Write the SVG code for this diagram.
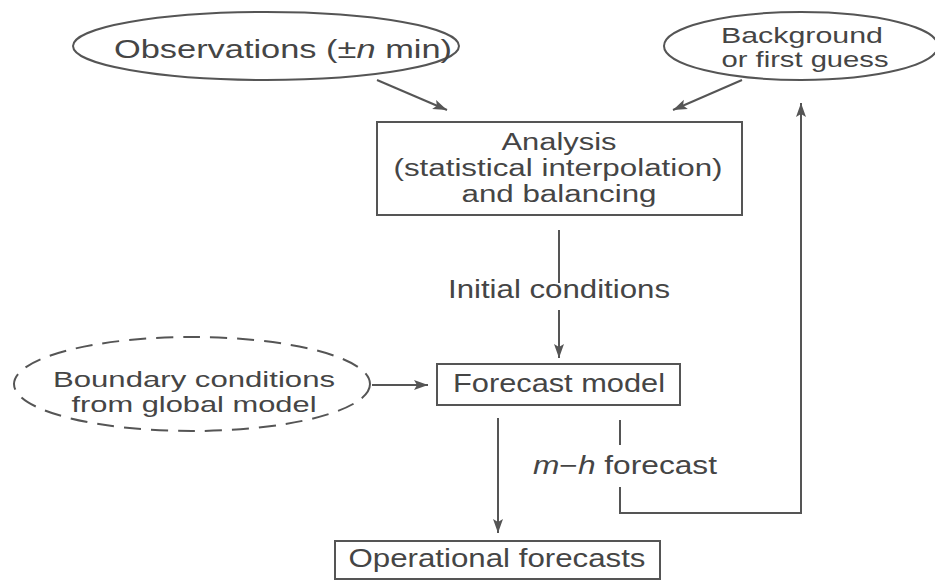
<svg xmlns="http://www.w3.org/2000/svg" width="935" height="582" viewBox="0 0 935 582">
<defs>
<style>
text{font-family:"Liberation Sans",Arial,sans-serif;font-size:25px;fill:#454545;text-anchor:middle;}
.node{fill:#fff;stroke:#555;stroke-width:2;}
.dash{fill:#fff;stroke:#555;stroke-width:2;stroke-dasharray:17 10;}
.conn{fill:none;stroke:#555;stroke-width:2;}
.it{font-style:italic;}
.bg{font-size:21.4px;}
.an{font-size:23px;}
.bd{font-size:22.3px;}
</style>
<marker id="ah" markerUnits="userSpaceOnUse" markerWidth="15" markerHeight="12" refX="14" refY="6" orient="auto">
<path d="M0,1 L14,6 L0,11 L3,6 z" fill="#555"/>
</marker>
</defs>
<rect width="935" height="582" fill="#fff"/>

<g id="observations">
<ellipse class="node" cx="266" cy="46" rx="193" ry="34"/>
<text x="283" y="58" textLength="338" lengthAdjust="spacingAndGlyphs" style="font-size:26px">Observations (±<tspan class="it">n</tspan> min)</text>
</g>

<g id="background">
<ellipse class="node" cx="801" cy="46" rx="137" ry="34"/>
<text class="bg" x="802" y="43" textLength="162" lengthAdjust="spacingAndGlyphs">Background</text>
<text class="bg" x="805" y="67" textLength="167" lengthAdjust="spacingAndGlyphs">or first guess</text>
</g>

<g id="analysis">
<rect class="node" x="377" y="122" width="365" height="93"/>
<text class="an" x="559" y="150" textLength="115" lengthAdjust="spacingAndGlyphs">Analysis</text>
<text class="an" x="558" y="176" textLength="329" lengthAdjust="spacingAndGlyphs">(statistical interpolation)</text>
<text class="an" x="559" y="202" textLength="195" lengthAdjust="spacingAndGlyphs">and balancing</text>
</g>

<g id="boundary">
<ellipse class="dash" cx="192" cy="384" rx="178" ry="47"/>
<text class="bd" x="194" y="387" textLength="282" lengthAdjust="spacingAndGlyphs">Boundary conditions</text>
<text class="bd" x="194" y="412" textLength="245" lengthAdjust="spacingAndGlyphs">from global model</text>
</g>

<g id="forecast-model">
<rect class="node" x="437" y="364" width="243" height="41"/>
<text x="559" y="392" textLength="212" lengthAdjust="spacingAndGlyphs">Forecast model</text>
</g>

<g id="operational">
<rect class="node" x="335" y="541" width="325" height="38"/>
<text x="497" y="567" textLength="297" lengthAdjust="spacingAndGlyphs">Operational forecasts</text>
</g>

<g id="connectors">
<line class="conn" x1="377" y1="80" x2="447" y2="110" marker-end="url(#ah)"/>
<line class="conn" x1="742" y1="80" x2="673" y2="110" marker-end="url(#ah)"/>
<line class="conn" x1="559" y1="230" x2="559" y2="283"/>
<line class="conn" x1="559" y1="310" x2="559" y2="358" marker-end="url(#ah)"/>
<text x="559" y="298" textLength="222" lengthAdjust="spacingAndGlyphs">Initial conditions</text>
<line class="conn" x1="372" y1="385" x2="428" y2="385" marker-end="url(#ah)"/>
<line class="conn" x1="498" y1="418" x2="498" y2="533" marker-end="url(#ah)"/>
<line class="conn" x1="620" y1="420" x2="620" y2="445"/>
<text x="533" y="474" textLength="184" lengthAdjust="spacingAndGlyphs" style="text-anchor:start"><tspan class="it">m</tspan>−<tspan class="it">h</tspan> forecast</text>
<path class="conn" d="M620,487 V513 H801 V103" marker-end="url(#ah)"/>
</g>
</svg>
